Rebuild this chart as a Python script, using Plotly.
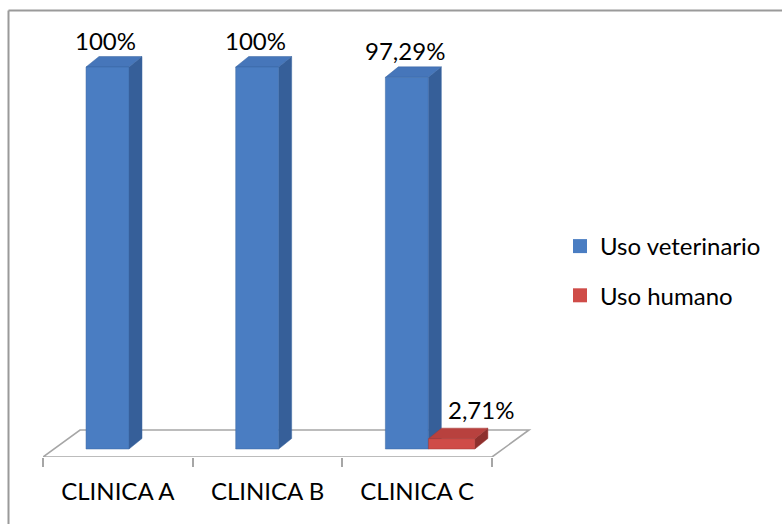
import plotly.graph_objects as go

# ---- data ----
categories = ["CLINICA A", "CLINICA B", "CLINICA C"]
series_names = ["Uso veterinario", "Uso humano"]
veterinario = [100, 100, 97.29]
humano = [None, None, 2.71]
labels_veterinario = ["100%", "100%", "97,29%"]
labels_humano = [None, None, "2,71%"]

# ---- geometry (pixels) ----
W, H = 782, 524
PL, PR, PT, PB = 43, 540, 20, 457        # plot area
CAT_W = 149.67                            # pixels per category
PX_Y = 3.82                               # pixels per percentage point
ZERO_PX = 449                             # pixel row of the bar bases

X_MIN = -0.5
X_MAX = X_MIN + (PR - PL) / CAT_W
Y_MIN = -(PB - ZERO_PX) / PX_Y
Y_MAX = Y_MIN + (PB - PT) / PX_Y

BAR_DX, BAR_DY = 13 / CAT_W, 10.5 / PX_Y      # bar depth
FLOOR_DX, FLOOR_DY = 37 / CAT_W, 27 / PX_Y    # floor depth

FONT = "Lato"
FS = 24

series = [
    dict(name=series_names[0], values=veterinario, labels=labels_veterinario,
         offset=-0.2125, width=0.287,
         front="#4a7dc2", top="#4676ba", side="#365f99", edge="#3b67a3",
         label_dx=-2, label_dy=10),
    dict(name=series_names[1], values=humano, labels=labels_humano,
         offset=0.0755, width=0.31,
         front="#cf4c48", top="#b8413e", side="#8e302d", edge="#a33a37",
         label_dx=29, label_dy=13),
]

def path(points):
    return "M " + " L ".join(f"{x},{y}" for x, y in points) + " Z"

def px_to_paper_x(px):
    return (px - PL) / (PR - PL)

def px_to_paper_y(py):
    return (PB - py) / (PB - PT)

shapes = []

# floor of the 3D chart
floor = [(X_MIN, Y_MIN), (X_MIN + 3, Y_MIN),
         (X_MIN + 3 + FLOOR_DX, Y_MIN + FLOOR_DY), (X_MIN + FLOOR_DX, Y_MIN + FLOOR_DY)]
shapes.append(dict(type="path", xref="x", yref="y", path=path(floor),
                   line=dict(color="#a6a6a6", width=1.6), fillcolor="white", layer="below"))

# depth faces (top and right side) of every bar
for s in series:
    for i, v in enumerate(s["values"]):
        if v is None:
            continue
        x0 = i + s["offset"]
        x1 = x0 + s["width"]
        top = [(x0, v), (x0 + BAR_DX, v + BAR_DY), (x1 + BAR_DX, v + BAR_DY), (x1, v)]
        side = [(x1, 0), (x1, v), (x1 + BAR_DX, v + BAR_DY), (x1 + BAR_DX, BAR_DY)]
        shapes.append(dict(type="path", xref="x", yref="y", path=path(side),
                           fillcolor=s["side"], line=dict(color=s["edge"], width=0.5),
                           layer="below"))
        shapes.append(dict(type="path", xref="x", yref="y", path=path(top),
                           fillcolor=s["top"], line=dict(color=s["edge"], width=0.5),
                           layer="below"))

# chart border (left and top edges)
bx, by = px_to_paper_x(8.5), px_to_paper_y(10.5)
shapes.append(dict(type="line", xref="paper", yref="paper", x0=bx, y0=by,
                   x1=px_to_paper_x(W + 20), y1=by, line=dict(color="#9a9a9a", width=2)))
shapes.append(dict(type="line", xref="paper", yref="paper", x0=bx, y0=by,
                   x1=bx, y1=px_to_paper_y(H + 20), line=dict(color="#9a9a9a", width=2)))

fig = go.Figure()
annotations = []
xs = list(range(len(categories)))
for k, s in enumerate(series):
    fig.add_trace(go.Bar(
        x=xs, y=s["values"], name=s["name"],
        offset=s["offset"], width=s["width"],
        marker=dict(color=s["front"], line=dict(color=s["edge"], width=0.5)),
        legendgroup=f"g{k}", showlegend=False, hoverinfo="skip",
    ))
    # legend key: a square swatch in the series colour
    fig.add_trace(go.Scatter(
        x=[None], y=[None], mode="markers", name=s["name"],
        marker=dict(symbol="square", size=14, color=s["front"]),
        legendgroup=f"g{k}", showlegend=True, hoverinfo="skip",
    ))
    for i, (v, t) in enumerate(zip(s["values"], s["labels"])):
        if v is None:
            continue
        annotations.append(dict(
            x=i + s["offset"] + s["width"] / 2, y=v, xref="x", yref="y",
            text=t, showarrow=False, yanchor="bottom",
            xshift=s["label_dx"], yshift=s["label_dy"],
            font=dict(family=FONT, size=FS, color="black"),
        ))

fig.update_layout(
    width=W, height=H,
    margin=dict(l=PL, r=W - PR, t=PT, b=H - PB),
    paper_bgcolor="white", plot_bgcolor="rgba(0,0,0,0)",
    barmode="overlay",
    showlegend=True,
    legend=dict(x=px_to_paper_x(560), y=px_to_paper_y(224), xanchor="left", yanchor="top",
                font=dict(family=FONT, size=FS, color="black"), itemsizing="trace",
                traceorder="grouped", tracegroupgap=15, bgcolor="rgba(0,0,0,0)"),
    shapes=shapes,
    annotations=annotations,
    xaxis=dict(range=[X_MIN, X_MAX], tickvals=xs,
               ticktext=categories, ticks="", showgrid=False, zeroline=False,
               showline=False, ticklabelstandoff=18,
               tickfont=dict(family=FONT, size=FS, color="black"),
               minor=dict(tickvals=[-0.5, 0.5, 1.5, 2.5], ticks="outside", ticklen=9,
                          tickwidth=1.5, tickcolor="#a6a6a6", showgrid=False)),
    yaxis=dict(range=[Y_MIN, Y_MAX], visible=False),
)

fig.write_html("out.html")
